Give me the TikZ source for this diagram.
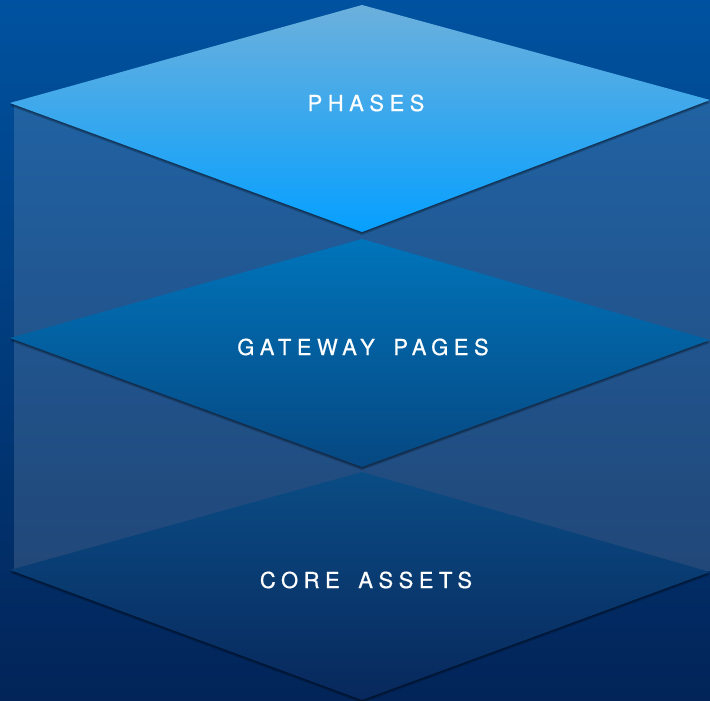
\documentclass[tikz,border=0pt]{standalone}
\usepackage{fontspec}
\newfontfamily\tierfont[LetterSpace=25,WordSpace=1.6,FakeBold=0.6]{TeX Gyre Heros}
\usetikzlibrary{positioning}

\definecolor{bgTop}{RGB}{0,82,160}
\definecolor{bgBot}{RGB}{2,36,88}
\definecolor{phasesTop}{RGB}{108,176,220}
\definecolor{phasesBot}{RGB}{6,160,255}
\definecolor{gatewayTop}{RGB}{0,116,186}
\definecolor{gatewayBot}{RGB}{6,72,130}
\definecolor{coreTop}{RGB}{10,76,132}
\definecolor{coreBot}{RGB}{8,40,92}

\tikzset{
  tier/.style = {
    preaction={fill=black, fill opacity=0.22, transform canvas={yshift=-3pt}},
    preaction={fill=black, fill opacity=0.28, transform canvas={yshift=-1.5pt}},
    top color=#1Top, bottom color=#1Bot},
  tiertext/.style = {text=white, inner sep=0pt,
                     font=\tierfont\fontsize{22}{22}\selectfont}
}

\begin{document}
\begin{tikzpicture}[x=1pt, y=-1pt]
	\def \xl{10}
	\def \xm{362}
	\def \xr{710}

	% Backdrop
	\shade[top color=bgTop, bottom color=bgBot] (0,0) rectangle (710,701);

	% Side walls
	\fill[white, fill opacity=0.13] (14,101) rectangle (\xr,571);

	% Core assets
	\shade[tier=core] (\xm,472) -- (\xr,572) -- (\xm,700) -- (\xl,570) -- cycle;
	% Gateway pages
	\shade[tier=gateway] (\xm,239) -- (\xr,340) -- (\xm,467) -- (\xl,338) -- cycle;
	% Phases
	\shade[tier=phases] (\xm,5) -- (\xr,100) -- (\xm,232) -- (\xl,103) -- cycle;

	% Labels
	\node[tiertext] (phases)  at (366,103) {PHASES};
	\node[tiertext] (gateway) at (363,347) {GATEWAY PAGES};
	\node[tiertext] (core)    at (366,580) {CORE ASSETS};
\end{tikzpicture}
\end{document}
